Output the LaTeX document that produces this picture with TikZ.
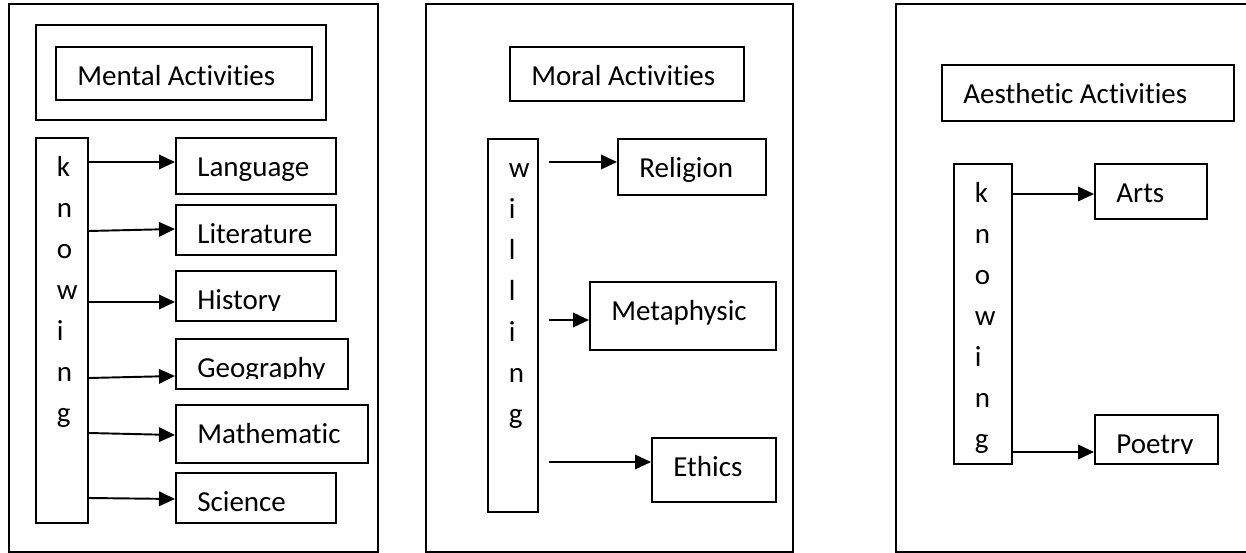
\documentclass[tikz,border=0pt]{standalone}
\usepackage{fontspec}
\setmainfont{Carlito}[Ligatures=NoCommon]
\usetikzlibrary{arrows.meta}

% text of a box: indented, hanging from the top, cut off near the bottom
\newcommand{\boxtext}[2]{%
  \begin{scope}
    \clip ([yshift=0.22cm]#1.south west) rectangle (#1.north east);
    \node[boxlabel] (#1-t) at ([xshift=0.44cm, yshift=-0.8cm]#1.north west) {#2};
  \end{scope}}
\newcommand{\boxletters}[2]{%
  \begin{scope}
    \clip ([yshift=0.22cm]#1.south west) rectangle (#1.north east);
    \foreach \c [count=\i from 0] in {#2}
      \node[boxlabel] (#1-\i) at ([xshift=0.43cm, yshift={-0.8cm-\i*0.82cm}]#1.north west) {\c};
  \end{scope}}

\begin{document}
\begin{tikzpicture}[
        x=0.02cm, y=-0.02cm,
        every node/.style={font=\fontsize{16.5pt}{19pt}\selectfont},
        panel/.style={draw, rectangle, anchor=north west, inner sep=0pt, line width=1.1pt},
        boxlabel/.style={anchor=base west, inner sep=0pt},
        arrow/.style={-{Triangle[length=0.32cm, width=0.29cm]}, line width=1.1pt}
    ]
    \useasboundingbox (0,0) rectangle (1246,553);

    % --- PANEL 1: Mental Activities ---
    \node[panel, minimum width=7.38cm, minimum height=10.96cm] (mentalpanel) at (8,3) {};
    \node[panel, minimum width=5.8cm, minimum height=1.9cm] (mentalhead) at (35,24) {};
    \node[panel, minimum width=5.12cm, minimum height=1.06cm] (mental) at (55,46) {};
    \node[panel, minimum width=1.04cm, minimum height=7.7cm] (knowA) at (35,137) {};
    \node[panel, minimum width=3.2cm, minimum height=1.12cm] (lang) at (175,137) {};
    \node[panel, minimum width=3.2cm, minimum height=1.0cm] (lit) at (175,204) {};
    \node[panel, minimum width=3.2cm, minimum height=1.0cm] (hist) at (175,270) {};
    \node[panel, minimum width=3.44cm, minimum height=1.0cm] (geo) at (175,338) {};
    \node[panel, minimum width=3.84cm, minimum height=1.16cm] (math) at (175,404) {};
    \node[panel, minimum width=3.2cm, minimum height=1.0cm] (sci) at (175,472) {};
    \boxtext{mental}{Mental Activities}
    \boxletters{knowA}{k,n,o,w,i,n,g}
    \boxtext{lang}{Language}
    \boxtext{lit}{Literature}
    \boxtext{hist}{History}
    \boxtext{geo}{Geography}
    \boxtext{math}{Mathematic}
    \boxtext{sci}{Science}

    % --- PANEL 2: Moral Activities ---
    \node[panel, minimum width=7.34cm, minimum height=10.96cm] (moralpanel) at (425,3) {};
    \node[panel, minimum width=4.68cm, minimum height=1.08cm] (moral) at (509,46) {};
    \node[panel, minimum width=1.0cm, minimum height=7.46cm] (will) at (487,138) {};
    \node[panel, minimum width=2.96cm, minimum height=1.12cm] (relig) at (617,138) {};
    \node[panel, minimum width=3.72cm, minimum height=1.36cm] (meta) at (589,281) {};
    \node[panel, minimum width=2.48cm, minimum height=1.28cm] (ethics) at (651,437) {};
    \boxtext{moral}{Moral Activities}
    \boxletters{will}{w,i,l,l,i,n,g}
    \boxtext{relig}{Religion}
    \boxtext{meta}{Metaphysic}
    \boxtext{ethics}{Ethics}

    % --- PANEL 3: Aesthetic Activities ---
    \node[panel, minimum width=7.1cm, minimum height=10.96cm] (aestpanel) at (895,3) {};
    \node[panel, minimum width=5.84cm, minimum height=1.12cm] (aesth) at (941,64) {};
    \node[panel, minimum width=1.16cm, minimum height=6.0cm] (knowB) at (953,163) {};
    \node[panel, minimum width=2.24cm, minimum height=1.1cm] (arts) at (1094,163) {};
    \node[panel, minimum width=2.46cm, minimum height=0.98cm] (poetry) at (1094,414) {};
    \boxtext{aesth}{Aesthetic Activities}
    \boxletters{knowB}{k,n,o,w,i,n,g}
    \boxtext{arts}{Arts}
    \boxtext{poetry}{Poetry}

    % --- ARROWS ---
    \draw[arrow] (knowA.east |- 0,162) -- (lang.west |- 0,162);
    \draw[arrow] (knowA.east |- 0,231) -- (lit.west |- 0,229);
    \draw[arrow] (knowA.east |- 0,302) -- (hist.west |- 0,302);
    \draw[arrow] (knowA.east |- 0,378) -- (geo.west |- 0,376);
    \draw[arrow] (knowA.east |- 0,433) -- (math.west |- 0,435);
    \draw[arrow] (knowA.east |- 0,498) -- (sci.west |- 0,499);

    \draw[arrow, shorten <=0.2cm] (will.east |- 0,162) -- (relig.west |- 0,162);
    \draw[arrow, shorten <=0.2cm] (will.east |- 0,320) -- (meta.west |- 0,320);
    \draw[arrow, shorten <=0.2cm] (will.east |- 0,462) -- (ethics.west |- 0,462);

    \draw[arrow] (knowB.east |- 0,194) -- (arts.west |- 0,194);
    \draw[arrow] (knowB.east |- 0,452) -- (poetry.west |- 0,452);

\end{tikzpicture}
\end{document}
